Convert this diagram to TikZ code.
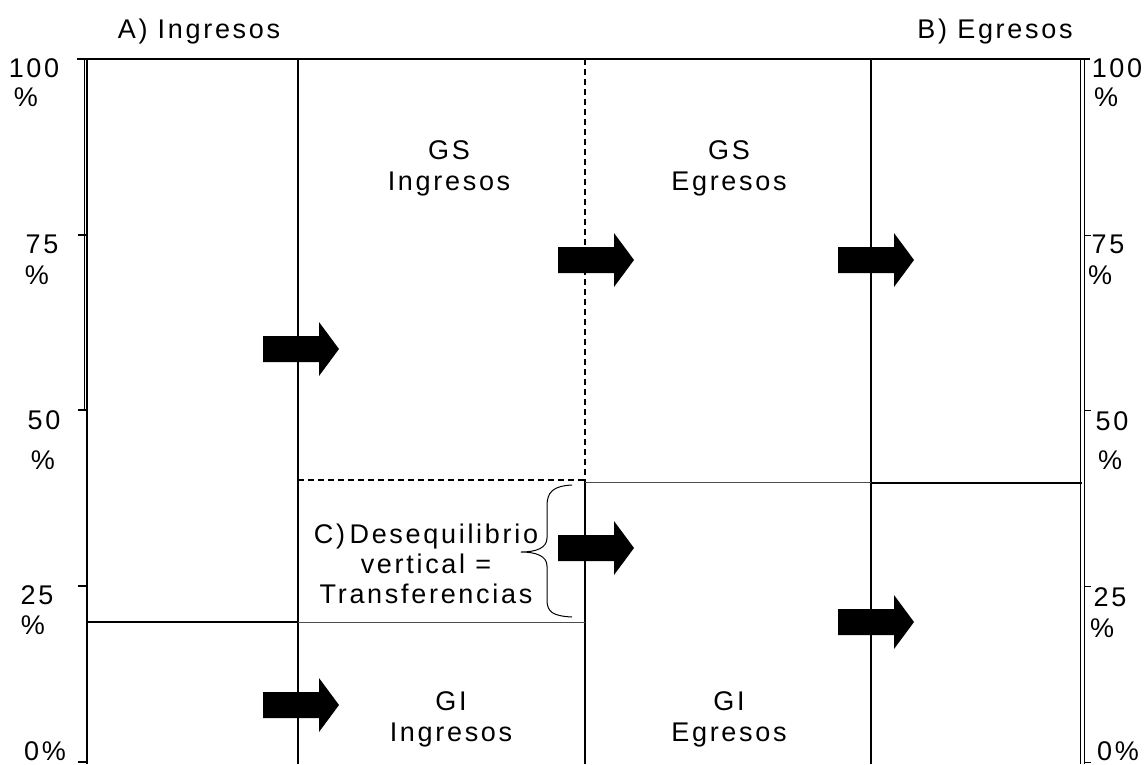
\documentclass[tikz,border=0pt]{standalone}
\usepackage{fontspec}
\setmainfont{Liberation Sans}[LetterSpace=10]
\newcommand{\blkarrow}[2]{%
  \fill[black] (#1,#2-13) -- (#1+56,#2-13) -- (#1+56,#2-27) -- (#1+76,#2) -- (#1+56,#2+27) -- (#1+56,#2+13) -- (#1,#2+13) -- cycle;}
\begin{document}
\begin{tikzpicture}[x=1pt,y=-1pt,
  lab/.style={font=\fontsize{27}{31}\selectfont, inner sep=0pt, align=center},
  axlab/.style={font=\fontsize{27}{30}\selectfont, inner sep=0pt},
  mainline/.style={line width=1.4pt, black},
  thinline/.style={line width=0.8pt, black!70},
  dashline/.style={line width=1.4pt, black, dash pattern=on 6pt off 4pt}]
\useasboundingbox (0,0) rectangle (1146,764);

% frame and columns
\draw[mainline] (77,59) -- (1090,59);
\draw[mainline] (87,59) -- (87,764);
\draw[line width=0.9pt] (84.5,59) -- (84.5,410);
\draw[line width=0.9pt] (1080,59) -- (1080,764);
\draw[line width=0.9pt] (1084,59) -- (1084,764);
\draw[mainline] (298,59) -- (298,764);
\draw[dashline] (585,59) -- (585,480);
\draw[mainline] (585,480) -- (585,764);
\draw[mainline] (871,59) -- (871,764);

% ticks
\foreach \yy in {235,410,586,762} {
  \draw[mainline] (78,\yy) -- (87,\yy);
  \draw[line width=0.9pt] (1084,\yy) -- (1091,\yy);
}

% horizontal divisions
\draw[mainline] (87,622) -- (298,622);
\draw[thinline] (298,622) -- (585,622);
\draw[dashline] (298,480) -- (585,480);
\draw[thinline] (585,482) -- (871,482);
\draw[mainline] (871,483) -- (1082,483);

% brace
\draw[line width=1pt] (572,485) .. controls (553,486) and (547,492) .. (547,506)
  -- (547,538) .. controls (547,548) and (536,552) .. (521,552)
  .. controls (536,552) and (547,556) .. (547,566)
  -- (547,600) .. controls (547,612) and (553,616) .. (572,617);

% block arrows
\blkarrow{263}{349}
\blkarrow{558}{260}
\blkarrow{838}{260}
\blkarrow{558}{548}
\blkarrow{838}{622}
\blkarrow{263}{705}

% titles
\node[lab, anchor=north] (ta) at (199,19) {A) Ingresos};
\node[lab, anchor=north] (tb) at (995,19) {B) Egresos};

% cell texts
\node[lab, anchor=north] (gsi) at (449,140) {GS\\Ingresos};
\node[lab, anchor=north] (gse) at (729,140) {GS\\Egresos};
\node[lab, anchor=north] (gii) at (451,691) {GI\\Ingresos};
\node[lab, anchor=north] (gie) at (729,691) {GI\\Egresos};
\node[lab, anchor=north, font=\fontsize{27}{30}\selectfont] (cdes) at (426,524) {C)\,Desequilibrio\\vertical =\\Transferencias};

% left axis labels
\node[axlab] (l100) at (34,68) {100};
\node[axlab] (l100p) at (26,97) {\%};
\node[axlab] (l75) at (42,244) {75};
\node[axlab] (l75p) at (37,275) {\%};
\node[axlab] (l50) at (44,420) {50};
\node[axlab] (l50p) at (43,460) {\%};
\node[axlab] (l25) at (37,595) {25};
\node[axlab] (l25p) at (33,625) {\%};
\node[axlab] (l0) at (45,751) {0\%};

% right axis labels
\node[axlab] (r100) at (1117,68) {100};
\node[axlab] (r100p) at (1106,97) {\%};
\node[axlab] (r75) at (1108,244) {75};
\node[axlab] (r75p) at (1100,275) {\%};
\node[axlab] (r50) at (1112,421) {50};
\node[axlab] (r50p) at (1110,460) {\%};
\node[axlab] (r25) at (1110,597) {25};
\node[axlab] (r25p) at (1102,628) {\%};
\node[axlab] (r0) at (1118,751) {0\%};
\end{tikzpicture}
\end{document}
